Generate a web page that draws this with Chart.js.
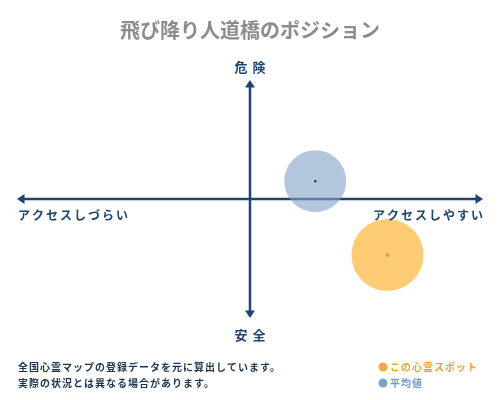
<!DOCTYPE html>
<html>
<head>
<meta charset="utf-8">
<script src="https://cdn.jsdelivr.net/npm/chart.js@4"></script>
<style>
	body { margin: 0; background: #fff; }
	canvas { display: block; }
</style>
</head>
<body>
<canvas id="posChart" width="500" height="400"></canvas>
<script>
// data (-100..100 on both axes)
const seriesNames = ['この心霊スポット', '平均値'];
const accessValues = [59, 28];   // x: しづらい(-) .. しやすい(+)
const dangerValues = [-47, 15];  // y: 安全(-) .. 危険(+)

const titleText = '飛び降り人道橋のポジション';
const axisLabels = { top: '危険', bottom: '安全', left: 'アクセスしづらい', right: 'アクセスしやすい' };
const noteLines = ['全国心霊マップの登録データを元に算出しています。', '実際の状況とは異なる場合があります。'];

const navy = '#1d4572';
const jpFont = '"Noto Sans CJK JP", "Noto Sans", sans-serif';

const ctx = document.getElementById('posChart').getContext('2d');

// draw cross axes, labels, title and notes
const positionPlugin = {
	id: 'positionMap',
	beforeDatasetsDraw(chart) {
		const { ctx, scales: { x, y } } = chart;
		const cx = x.getPixelForValue(0);
		const cy = y.getPixelForValue(0);
		const l = x.getPixelForValue(-100), r = x.getPixelForValue(100);
		const t = y.getPixelForValue(100), b = y.getPixelForValue(-100);

		ctx.save();
		ctx.strokeStyle = navy;
		ctx.fillStyle = navy;
		ctx.lineWidth = 2.5;
		ctx.beginPath();
		ctx.moveTo(l + 4, cy); ctx.lineTo(r - 4, cy);
		ctx.moveTo(cx, t + 4); ctx.lineTo(cx, b - 4);
		ctx.stroke();

		// arrow heads
		const a = 5;
		ctx.beginPath();
		ctx.moveTo(r, cy); ctx.lineTo(r - a * 1.5, cy - a); ctx.lineTo(r - a * 1.5, cy + a); ctx.closePath();
		ctx.moveTo(l, cy); ctx.lineTo(l + a * 1.5, cy - a); ctx.lineTo(l + a * 1.5, cy + a); ctx.closePath();
		ctx.moveTo(cx, t); ctx.lineTo(cx - a, t + a * 1.5); ctx.lineTo(cx + a, t + a * 1.5); ctx.closePath();
		ctx.moveTo(cx, b); ctx.lineTo(cx - a, b - a * 1.5); ctx.lineTo(cx + a, b - a * 1.5); ctx.closePath();
		ctx.fill();
		ctx.restore();
	},
	afterDatasetsDraw(chart) {
		const { ctx, scales: { x, y } } = chart;
		const cx = x.getPixelForValue(0);
		const cy = y.getPixelForValue(0);
		const l = x.getPixelForValue(-100), r = x.getPixelForValue(100);
		const t = y.getPixelForValue(100), b = y.getPixelForValue(-100);

		ctx.save();
		// center dots of each bubble
		const dotColors = ['#f0a020', '#1d3550'];
		chart.data.datasets.forEach((ds, i) => {
			chart.getDatasetMeta(i).data.forEach(pt => {
				ctx.fillStyle = dotColors[i];
				ctx.beginPath();
				ctx.arc(pt.x, pt.y, i === 0 ? 2 : 1.2, 0, Math.PI * 2);
				ctx.fill();
			});
		});

		// title
		ctx.fillStyle = '#8c8c8c';
		ctx.font = 'bold 20px ' + jpFont;
		ctx.textAlign = 'center';
		ctx.textBaseline = 'middle';
		ctx.fillText(titleText, 250, 30);

		// axis labels
		ctx.fillStyle = navy;
		ctx.font = 'bold 13px ' + jpFont;
		ctx.letterSpacing = '5px';
		ctx.fillText(axisLabels.top, cx + 2.5, t - 13);
		ctx.fillText(axisLabels.bottom, cx + 2.5, b + 17);
		ctx.font = 'bold 12px ' + jpFont;
		ctx.letterSpacing = '2px';
		ctx.textAlign = 'left';
		ctx.fillText(axisLabels.left, l + 1, cy + 16);
		ctx.textAlign = 'right';
		ctx.fillText(axisLabels.right, r + 2, cy + 16);

		// notes
		ctx.letterSpacing = '1px';
		ctx.font = 'bold 10px ' + jpFont;
		ctx.textAlign = 'left';
		ctx.fillStyle = '#1d3550';
		noteLines.forEach((s, i) => ctx.fillText(s, 18, 367 + i * 16));

		// legend
		const legendColors = ['#f0a030', '#6f9bc8'];
		const dotFill = ['#f5a840', '#79a3cc'];
		seriesNames.forEach((s, i) => {
			const ly = 367 + i * 16;
			ctx.fillStyle = dotFill[i];
			ctx.beginPath();
			ctx.arc(383, ly, 4.5, 0, Math.PI * 2);
			ctx.fill();
			ctx.fillStyle = legendColors[i];
			ctx.fillText(s, 390, ly);
		});
		ctx.restore();
	}
};

const chart = new Chart(ctx, {
	type: 'scatter',
	data: {
		datasets: [{
			label: seriesNames[0],
			data: accessValues.slice(0, 1).map((v, i) => ({ x: v, y: dangerValues[i] })),
			backgroundColor: 'rgba(252, 190, 80, 0.8)',
			borderWidth: 0,
			pointRadius: 36,
			pointHoverRadius: 36
		}, {
			label: seriesNames[1],
			data: accessValues.slice(1).map((v, i) => ({ x: v, y: dangerValues[i + 1] })),
			backgroundColor: 'rgba(130, 160, 200, 0.6)',
			borderWidth: 0,
			pointRadius: 31,
			pointHoverRadius: 31
		}]
	},
	options: {
		responsive: false,
		animation: false,
		layout: { autoPadding: false, padding: { left: 17, right: 17, top: 80, bottom: 82 } },
		plugins: {
			legend: { display: false },
			tooltip: { enabled: false }
		},
		scales: {
			x: { display: false, min: -100, max: 100 },
			y: { display: false, min: -100, max: 100 }
		}
	},
	plugins: [positionPlugin]
});
</script>
</body>
</html>
